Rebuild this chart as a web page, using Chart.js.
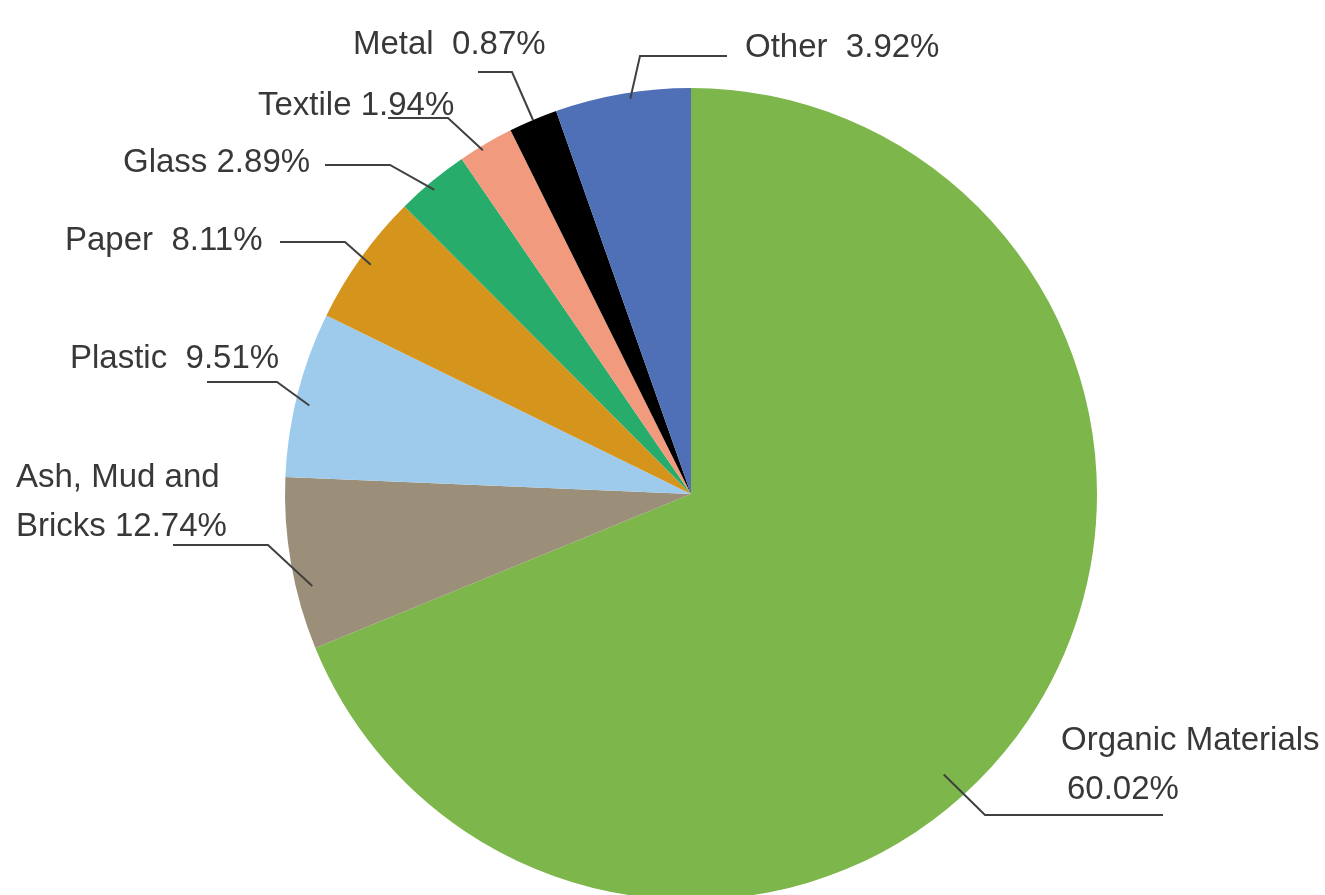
<!DOCTYPE html>
<html>
<head>
<meta charset="utf-8">
<script src="https://cdn.jsdelivr.net/npm/chart.js@4.4.0/dist/chart.umd.min.js"></script>
<style>
  html, body { margin: 0; padding: 0; background: #fff; overflow: hidden; }
  canvas { display: block; }
</style>
</head>
<body>
<canvas id="wasteChart" width="1325" height="1000"></canvas>
<script>
// slice order: clockwise from 12 o'clock
const categories = ['Organic Materials', 'Ash, Mud and Bricks', 'Plastic', 'Paper', 'Glass', 'Textile', 'Metal', 'Other'];
// percentages printed on the labels
const printedPct = ['60.02%', '12.74%', '9.51%', '8.11%', '2.89%', '1.94%', '0.87%', '3.92%'];
// share of the circle each slice actually covers in the figure
const sliceShare = [68.8, 6.86, 6.58, 5.28, 2.92, 2.22, 1.94, 5.39];
const sliceColors = ['#7db64a', '#9b8f7a', '#9ecbec', '#d5951c', '#28ac6b', '#f29a7d', '#000000', '#4f6fb6'];

// where each label sits and how its leader line runs (canvas px)
// wrap = chars of the name on line 1, sep = text between name and percent
// at = fraction of the slice sweep where the leader ends, r = fraction of radius
const labelLayout = [
    { x: 1061, y: 741, sep: '\n', tail: [1163, 815], elbow: [985, 815], at: 0.557, r: 0.93 },
    { x: 16, y: 478, wrap: 12, sep: ' ', tail: [173, 545], elbow: [268, 545], at: 0.35, r: 0.96 },
    { x: 70, y: 359, sep: '  ', tail: [207, 382], elbow: [277, 382], at: 0.45, r: 0.965 },
    { x: 65, y: 241, sep: '  ', tail: [280, 242], elbow: [345, 242], at: 0.5, r: 0.97 },
    { x: 123, y: 163, sep: ' ', tail: [325, 165], elbow: [390, 165], at: 0.45, r: 0.98 },
    { x: 258, y: 106, sep: ' ', tail: [388, 118], elbow: [448, 118], at: 0.4, r: 0.99 },
    { x: 353, y: 45, sep: '  ', tail: [478, 72], elbow: [512, 72], at: 0.5, r: 1.0 },
    { x: 745, y: 48, sep: '  ', tail: [727, 56], elbow: [640, 56], at: 0.55, r: 0.985 }
];

const fontSize = 33;
const lineGap = 49;

function labelLines(i) {
    const lay = labelLayout[i];
    let name = categories[i];
    if (lay.wrap) name = name.slice(0, lay.wrap) + '\n' + name.slice(lay.wrap + 1);
    return (name + lay.sep + printedPct[i]).split('\n');
}

const leaderLabels = {
    id: 'leaderLabels',
    afterDraw(chart) {
        const ctx = chart.ctx;
        const arcs = chart.getDatasetMeta(0).data;
        ctx.save();
        ctx.strokeStyle = '#404040';
        ctx.lineWidth = 2;
        ctx.fillStyle = '#383838';
        ctx.font = fontSize + 'px "Liberation Sans", Arial, sans-serif';
        ctx.textBaseline = 'middle';
        ctx.textAlign = 'left';
        arcs.forEach((arc, i) => {
            const lay = labelLayout[i];
            const p = arc.getProps(['x', 'y', 'startAngle', 'endAngle', 'outerRadius'], true);
            const a = p.startAngle + (p.endAngle - p.startAngle) * lay.at;
            const ex = p.x + Math.cos(a) * p.outerRadius * lay.r;
            const ey = p.y + Math.sin(a) * p.outerRadius * lay.r;
            ctx.beginPath();
            ctx.moveTo(lay.tail[0], lay.tail[1]);
            ctx.lineTo(lay.elbow[0], lay.elbow[1]);
            ctx.lineTo(ex, ey);
            ctx.stroke();

            const lines = labelLines(i);
            lines.forEach((t, k) => {
                const dx = (i === 0 && k === 1) ? 6 : 0;
                ctx.fillText(t, lay.x + dx, lay.y + k * lineGap);
            });
        });
        ctx.restore();
    }
};

const ctx = document.getElementById('wasteChart').getContext('2d');
const wasteChart = new Chart(ctx, {
    type: 'pie',
    data: {
        labels: categories,
        datasets: [{
            data: sliceShare,
            backgroundColor: sliceColors,
            borderWidth: 0
        }]
    },
    options: {
        responsive: false,
        animation: false,
        events: [],
        layout: {
            padding: { left: 285, right: 228, top: 88, bottom: 100 }
        },
        plugins: {
            legend: { display: false },
            tooltip: { enabled: false }
        }
    },
    plugins: [leaderLabels]
});
</script>
</body>
</html>
